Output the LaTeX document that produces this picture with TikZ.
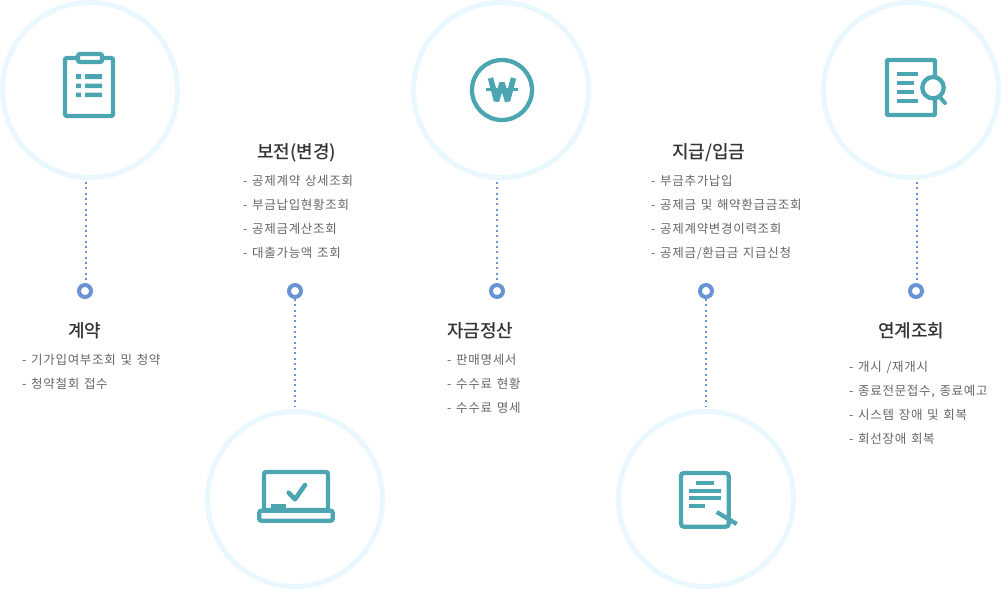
\documentclass[tikz,border=0pt]{standalone}
\usepackage{fontspec}
\setmainfont{Noto Sans CJK KR}
\newfontfamily\itemfont[LetterSpace=5.5,WordSpace=1.35]{Noto Sans CJK KR}
\newfontfamily\titlefont{Noto Sans CJK KR Medium}
\definecolor{ringblue}{HTML}{E9F7FF}
\definecolor{dotblue}{HTML}{6A93D6}
\definecolor{iconteal}{HTML}{4CA6B2}
\definecolor{titlegray}{HTML}{333333}
\definecolor{itemgray}{HTML}{666666}
\tikzset{
  bigring/.style={circle,draw=ringblue,line width=5pt,minimum size=175pt,inner sep=0pt},
  smallring/.style={circle,draw=dotblue,fill=white,line width=4pt,minimum size=12pt,inner sep=0pt},
  dotline/.style={draw=dotblue,line width=2pt,dash pattern=on 2pt off 3.33pt},
  icon/.style={draw=iconteal,line width=4.3pt},
  iconbar/.style={draw=iconteal,line width=4pt},
  title/.style={anchor=base west,inner sep=0pt,text=titlegray,font=\titlefont\fontsize{18}{20}\selectfont},
  item/.style={anchor=base west,inner sep=0pt,text=itemgray,font=\itemfont\fontsize{12.5}{14}\selectfont}
}
\begin{document}
\begin{tikzpicture}[x=1pt,y=-1pt]
\useasboundingbox (0,0) rectangle (1001,589);

% rings
\node[bigring] (ring1) at (90,90) {};
\node[bigring] (ring2) at (295,499) {};
\node[bigring] (ring3) at (501,90) {};
\node[bigring] (ring4) at (706,499) {};
\node[bigring] (ring5) at (911,90) {};

% small dots
\node[smallring] (dot1) at (85,291) {};
\node[smallring] (dot2) at (295,291) {};
\node[smallring] (dot3) at (497,291) {};
\node[smallring] (dot4) at (706,291) {};
\node[smallring] (dot5) at (916,291) {};

% dotted lines
\draw[dotline,shorten <=2pt] ([xshift=1pt]dot1.north |- ring1.south) -- ([xshift=1pt]dot1.north);
\draw[dotline,shorten >=3pt] (dot2.south) -- (ring2.north);
\draw[dotline,shorten <=2pt] (dot3.north |- ring3.south) -- (dot3.north);
\draw[dotline,shorten >=3pt] (dot4.south) -- (ring4.north);
\draw[dotline,shorten <=2pt] ([xshift=1pt]dot5.north |- ring5.south) -- ([xshift=1pt]dot5.north);

% clipboard
\draw[icon,rounded corners=2pt] (65,58) rectangle (113,116);
\draw[icon,fill=white,rounded corners=2pt] (78,54) rectangle (102,62);
\fill[iconteal] (76,74) rectangle (81,79) (85,74) rectangle (102,79);
\fill[iconteal] (76,83.5) rectangle (81,88) (85,83.5) rectangle (102,88);
\fill[iconteal] (76,92.7) rectangle (81,97) (85,92.7) rectangle (102,97);

% won coin
\draw[icon] (502,90) circle (30);
\draw[icon,line width=5.5pt,miter limit=1.5] (490.5,78) -- (496.5,101) -- (502,83) -- (507.5,101) -- (513.5,78);
\draw[iconbar,line width=3pt] (486,89.5) -- (518,89.5);

% document with magnifier
\draw[icon,rounded corners=1pt] (887,60) rectangle (935,115);
\draw[iconbar] (897,73.7) -- (918,73.7);
\draw[iconbar] (897,82.7) -- (914,82.7);
\draw[iconbar] (897,91.7) -- (914,91.7);
\draw[iconbar] (897,100.7) -- (918,100.7);
\draw[icon,fill=white] (933,87.7) circle (10.7);
\draw[iconbar,line cap=round] (939.5,96.7) -- (945,103);

% laptop
\draw[icon,rounded corners=2pt] (264,472) -- (328,472) -- (328,510) -- (264,510) -- cycle;
\fill[iconteal] (271,504) rectangle (286,509);
\draw[icon,rounded corners=2pt] (259.3,510.7) rectangle (332.7,520.7);
\draw[icon,line width=4.6pt,line cap=round,line join=round] (288.7,492.7) -- (295,499.3) -- (305,485);

% document with pen
\draw[icon,rounded corners=3pt] (681,473) rectangle (728.7,526.7);
\draw[iconbar] (696.3,482.7) -- (713.7,482.7);
\draw[iconbar] (689,491) -- (720.7,491);
\draw[iconbar] (689,498.3) -- (720.7,498.3);
\draw[iconbar] (689,506) -- (705,506);
\draw[icon] (716.7,512) -- (736.7,524);

% step 1
\node[title] (title1) at (68,337) {계약};
\node[item] (item11) at (22,364) {- 기가입여부조회 및 청약};
\node[item] (item12) at (22,388) {- 청약철회 접수};

% step 2
\node[title] (title2) at (257,158) {보전(변경)};
\node[item] (item21) at (243,185) {- 공제계약 상세조회};
\node[item] (item22) at (243,209) {- 부금납입현황조회};
\node[item] (item23) at (243,233) {- 공제금계산조회};
\node[item] (item24) at (243,257) {- 대출가능액 조회};

% step 3
\node[title] (title3) at (447,337) {자금정산};
\node[item] (item31) at (447,364) {- 판매명세서};
\node[item] (item32) at (447,388) {- 수수료 현황};
\node[item] (item33) at (447,412) {- 수수료 명세};

% step 4
\node[title] (title4) at (672,158) {지급/입금};
\node[item] (item41) at (651,185) {- 부금추가납입};
\node[item] (item42) at (651,209) {- 공제금 및 해약환급금조회};
\node[item] (item43) at (651,233) {- 공제계약변경이력조회};
\node[item] (item44) at (651,257) {- 공제금/환급금 지급신청};

% step 5
\node[title] (title5) at (878,337) {연계조회};
\node[item] (item51) at (849,371) {- 개시 /재개시};
\node[item] (item52) at (849,395) {- 종료전문접수, 종료예고};
\node[item] (item53) at (849,419) {- 시스템 장애 및 회복};
\node[item] (item54) at (849,443) {- 회선장애 회복};
\end{tikzpicture}
\end{document}
